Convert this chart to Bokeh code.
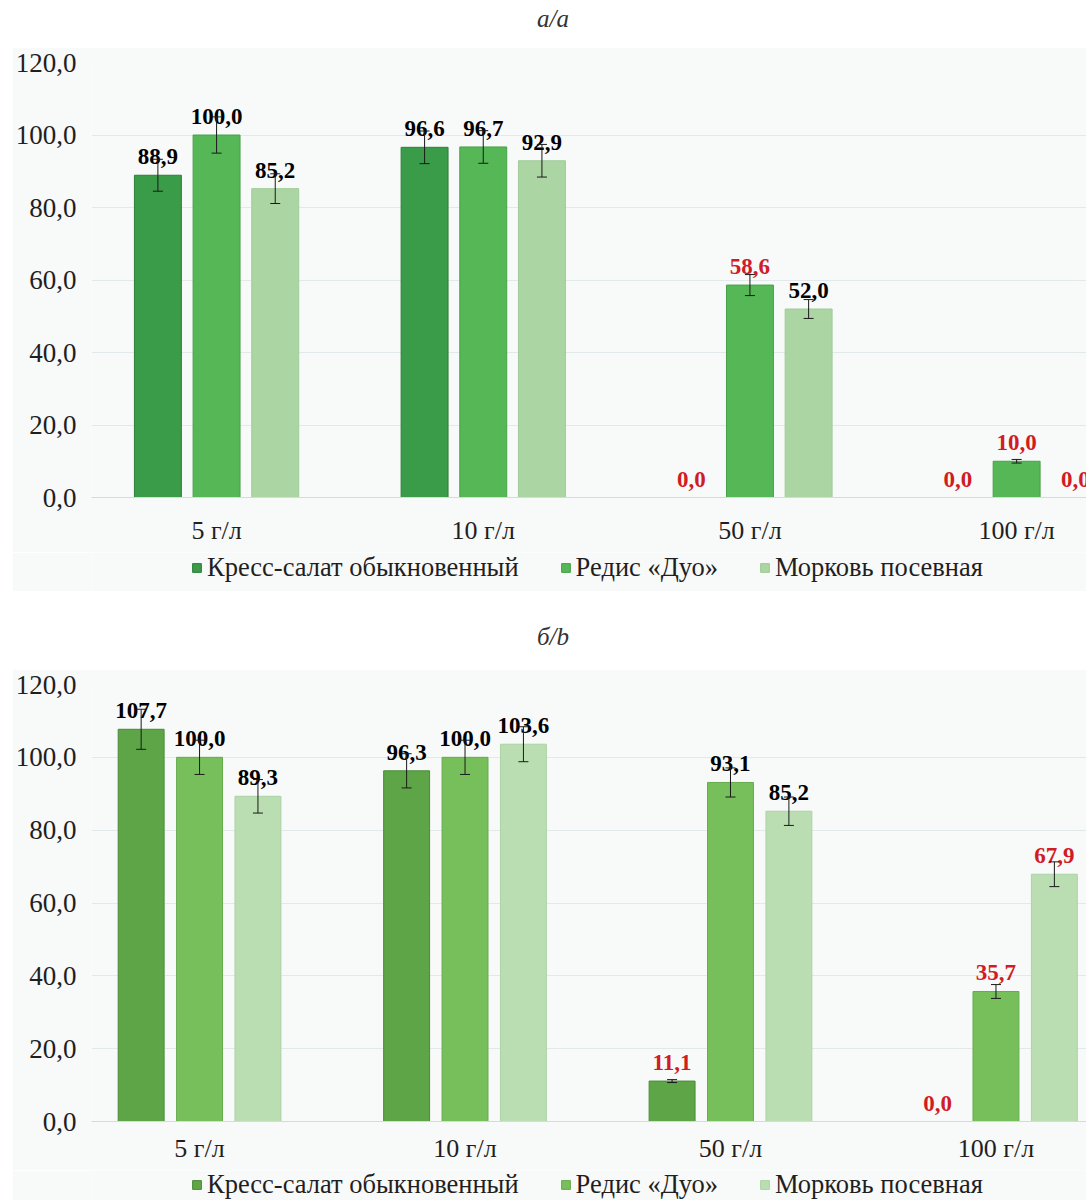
from bokeh.plotting import figure
from bokeh.layouts import column
from bokeh.models import (ColumnDataSource, Div, FixedTicker, Legend, LegendItem,
                          Range1d, Whisker, TeeHead)
from bokeh.transform import dodge
from bokeh.core.properties import value
from bokeh.embed import file_html
from bokeh.resources import INLINE

# Concentrations on the x axis
categories = ["5 г/л", "10 г/л", "50 г/л", "100 г/л"]
series_names = ["Кресс-салат обыкновенный", "Редис «Дуо»", "Морковь посевная"]

# Panel a: values and errors
a_cress = [88.9, 96.6, 0.0, 0.0]
a_radish = [100.0, 96.7, 58.6, 10.0]
a_carrot = [85.2, 92.9, 52.0, 0.0]
a_cress_err = [4.4, 4.5, 0.0, 0.0]
a_radish_err = [5.0, 4.5, 2.9, 0.5]
a_carrot_err = [4.1, 4.5, 2.6, 0.0]
a_cress_sig = [False, False, True, True]
a_radish_sig = [False, False, True, True]
a_carrot_sig = [False, False, False, True]

# Panel b: values and errors
b_cress = [107.7, 96.3, 11.1, 0.0]
b_radish = [100.0, 100.0, 93.1, 35.7]
b_carrot = [89.3, 103.6, 85.2, 67.9]
b_cress_err = [5.5, 4.7, 0.4, 0.0]
b_radish_err = [4.7, 4.7, 4.0, 1.9]
b_carrot_err = [4.6, 4.8, 3.9, 3.4]
b_cress_sig = [False, False, True, True]
b_radish_sig = [False, False, False, True]
b_carrot_sig = [False, False, False, True]

y_ticks = [0, 20, 40, 60, 80, 100, 120]

SERIF = "Liberation Serif"
RED = "#d01c24"
PANEL_BG = "#f8f9f9"


def fmt(v):
    return f"{v:.1f}".replace(".", ",")


def make_panel(vals, errs, sigs, colors, borders, x_start, x_end, bar_w, height,
               bottom, label_standoff):
    p = figure(width=1074, height=height,
               x_range=Range1d(x_start, x_end), y_range=Range1d(0, 120),
               output_backend="svg", toolbar_location=None,
               background_fill_color=PANEL_BG, border_fill_color=PANEL_BG,
               min_border_left=79, min_border_right=0, min_border_top=15,
               min_border_bottom=bottom, outline_line_color=None,
               margin=(0, 0, 0, 12))

    xs = [i + 0.5 for i in range(len(categories))]
    offsets = [-0.22, 0.0, 0.22]
    for k in range(3):
        src = ColumnDataSource(dict(
            x=xs, top=vals[k],
            label=[fmt(v) for v in vals[k]],
            color=[RED if s else "#000000" for s in sigs[k]],
        ))
        p.vbar(x=dodge("x", offsets[k], range=p.x_range), top="top", width=bar_w,
               source=src, fill_color=colors[k], line_color=borders[k], line_width=1)

        # error bars only where the bar has a spread
        wsrc = ColumnDataSource(dict(
            x=[x + offsets[k] for x, e in zip(xs, errs[k]) if e > 0],
            lower=[v - e for v, e in zip(vals[k], errs[k]) if e > 0],
            upper=[v + e for v, e in zip(vals[k], errs[k]) if e > 0],
        ))
        w = Whisker(source=wsrc, base="x", lower="lower", upper="upper",
                    level="overlay", line_color="#1a1a1a", line_width=1,
                    upper_head=TeeHead(size=10, line_color="#1a1a1a", line_width=1),
                    lower_head=TeeHead(size=10, line_color="#1a1a1a", line_width=1))
        p.add_layout(w)

        p.text(x=dodge("x", offsets[k], range=p.x_range), y="top", text="label",
               source=src, text_color="color", text_align="center",
               text_baseline="bottom", y_offset=-11,
               text_font=value(SERIF), text_font_style="bold",
               text_font_size="23px", level="overlay")

    # axes
    p.xaxis.ticker = FixedTicker(ticks=xs)
    p.xaxis.major_label_overrides = {x: c for x, c in zip(xs, categories)}
    p.xaxis.major_tick_line_color = None
    p.xaxis.major_tick_out = 0
    p.xaxis.major_tick_in = 0
    p.xaxis.minor_tick_line_color = None
    p.xaxis.axis_line_color = "#d9d9d9"
    p.xaxis.major_label_standoff = label_standoff
    p.xaxis.major_label_text_font = SERIF
    p.xaxis.major_label_text_font_size = "26px"
    p.xaxis.major_label_text_color = "#1f1f1f"

    p.yaxis.ticker = FixedTicker(ticks=y_ticks)
    p.yaxis.major_label_overrides = {t: fmt(t) for t in y_ticks}
    p.yaxis.major_tick_line_color = None
    p.yaxis.major_tick_out = 0
    p.yaxis.major_tick_in = 0
    p.yaxis.minor_tick_line_color = None
    p.yaxis.axis_line_color = None
    p.yaxis.major_label_standoff = 15
    p.yaxis.major_label_text_font = SERIF
    p.yaxis.major_label_text_font_size = "27px"
    p.yaxis.major_label_text_color = "#1f1f1f"

    p.xgrid.grid_line_color = None
    p.ygrid.grid_line_color = "#e2e9eb"
    p.ygrid.grid_line_width = 1
    return p


def make_legend_strip(colors, borders, height, loc):
    # a thin strip holding the series legend under each chart
    lg = figure(width=1074, height=height, x_range=Range1d(0, 1), y_range=Range1d(0, 1),
                output_backend="svg", toolbar_location=None,
                x_axis_location=None, y_axis_location=None,
                background_fill_color=PANEL_BG, border_fill_color=PANEL_BG,
                min_border=0, outline_line_color=None, margin=(0, 0, 0, 12))
    lg.xgrid.visible = False
    lg.ygrid.visible = False
    # swatch anchors sit outside the visible range; only their legend icons show
    swatches = [lg.vbar(x=[-5], top=[-5], bottom=[-6], width=0.1,
                        fill_color=c, line_color=b) for c, b in zip(colors, borders)]
    legend = Legend(items=[LegendItem(label=n, renderers=[r])
                           for n, r in zip(series_names, swatches)],
                    orientation="horizontal", location=loc,
                    background_fill_alpha=0, border_line_alpha=0,
                    label_text_font=SERIF, label_text_font_size="26.5px",
                    label_text_color="#1f1f1f",
                    glyph_width=11, glyph_height=11, label_standoff=5,
                    spacing=41, padding=0, margin=0)
    lg.add_layout(legend)
    return lg


def title_div(text, height, pad):
    html = (f'<div style="font-family:{SERIF};font-style:italic;font-size:25px;'
            f'line-height:25px;color:#333;text-align:center;width:1086px;'
            f'padding-top:{pad}px;padding-left:20px;box-sizing:border-box">{text}</div>')
    return Div(text=html, width=1086, height=height, margin=0)


a_colors = ["#3a9b48", "#55b755", "#abd5a2"]
a_borders = ["#2e7f3a", "#48a048", "#a0cc98"]
b_colors = ["#5ea548", "#77bf5a", "#badeb2"]
b_borders = ["#4a8a38", "#66ab4c", "#acd3a4"]

div_a = title_div("а/a", 47, 6)
fig_a = make_panel([a_cress, a_radish, a_carrot],
                   [a_cress_err, a_radish_err, a_carrot_err],
                   [a_cress_sig, a_radish_sig, a_carrot_sig],
                   a_colors, a_borders, 0.031, 3.762, 0.176, 505, 55, 18)
leg_a = make_legend_strip(a_colors, a_borders, 39, (100, 8))
div_b = title_div("б/b", 78, 33)
fig_b = make_panel([b_cress, b_radish, b_carrot],
                   [b_cress_err, b_radish_err, b_carrot_err],
                   [b_cress_sig, b_radish_sig, b_carrot_sig],
                   b_colors, b_borders, 0.093, 3.841, 0.173, 501, 49, 12)
leg_b = make_legend_strip(b_colors, b_borders, 30, (100, 0))

layout = column(div_a, fig_a, leg_a, div_b, fig_b, leg_b, spacing=0)
open("out.html", "w").write(file_html(layout, INLINE))
